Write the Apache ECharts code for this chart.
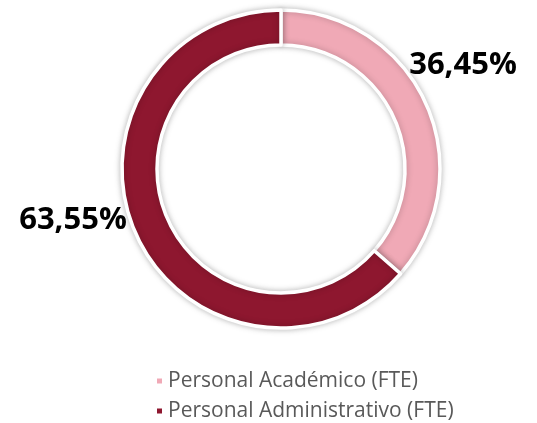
<!DOCTYPE html>
<html>
<head>
<meta charset="utf-8">
<script src="https://cdn.jsdelivr.net/npm/echarts@6/dist/echarts.min.js"></script>
<style>
  html, body { margin: 0; padding: 0; background: #fff; }
  #chart { width: 537px; height: 423px; }
</style>
</head>
<body>
<div id="chart"></div>
<script>
// Distribution of staff (FTE)
const categories = ["Personal Académico (FTE)", "Personal Administrativo (FTE)"]
const shares = [36.45, 63.55]
const labels = ["36,45%", "63,55%"]
const colors = ["#F0A9B6", "#8E172F"]

// label anchors, one per slice
const labelPos = [[463, 65], [73, 220]]

document.addEventListener("DOMContentLoaded", () => {
    const chart = echarts.init(document.getElementById("chart"))

    const option = {
        animation: false,
        legend: {
            orient: "vertical",
            left: 155,
            top: 369,
            padding: 0,
            icon: "rect",
            itemWidth: 7,
            itemHeight: 7,
            itemGap: 6,
            textStyle: {
                fontFamily: "'Open Sans', sans-serif",
                fontSize: 21,
                lineHeight: 24,
                color: "#595959",
            },
            data: categories,
        },
        series: [
            {
                type: "pie",
                center: [281, 169],
                radius: [124, 159],
                startAngle: 90,
                clockwise: true,
                itemStyle: {
                    borderColor: "#fff",
                    borderWidth: 3.5,
                    shadowBlur: 6,
                    shadowColor: "rgba(0,0,0,0.25)",
                },
                label: {
                    show: true,
                    position: "inside",
                    overflow: "none",
                    formatter: (p) => labels[p.dataIndex],
                    fontFamily: "'Open Sans', sans-serif",
                    fontWeight: "bold",
                    fontSize: 31,
                    color: "#000",
                },
                labelLine: { show: false },
                labelLayout: (params) => ({
                    x: labelPos[params.dataIndex][0],
                    y: labelPos[params.dataIndex][1],
                    align: "center",
                    verticalAlign: "middle",
                }),
                emphasis: { disabled: true },
                data: categories.map((name, i) => ({
                    name: name,
                    value: shares[i],
                    itemStyle: { color: colors[i] },
                })),
            },
        ],
    }

    chart.setOption(option)
})
</script>
</body>
</html>
